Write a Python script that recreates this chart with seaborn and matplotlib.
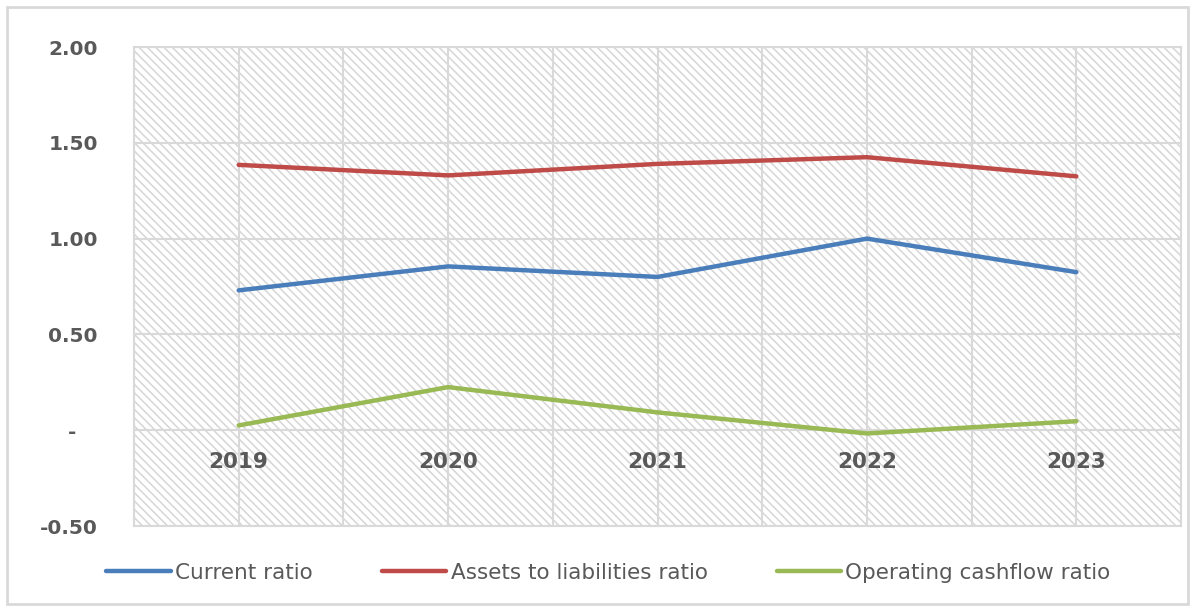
import numpy as np
import pandas as pd
import matplotlib
matplotlib.use("Agg")
import matplotlib.pyplot as plt
from matplotlib.patches import Rectangle
import seaborn as sns

years = ["2019", "2020", "2021", "2022", "2023"]
current_ratio = [0.73, 0.855, 0.80, 1.00, 0.825]
assets_to_liabilities = [1.385, 1.33, 1.39, 1.425, 1.325]
operating_cashflow = [0.025, 0.225, 0.093, -0.017, 0.047]
series_names = ["Current ratio", "Assets to liabilities ratio", "Operating cashflow ratio"]
y_ticks = [-0.5, 0.0, 0.5, 1.0, 1.5, 2.0]
y_tick_labels = ["-0.50", "-   ", "0.50", "1.00", "1.50", "2.00"]

colors = ["#4a7ebb", "#be4b48", "#98b954"]

df = pd.DataFrame({
    "x": list(range(len(years))) * 3,
    "value": current_ratio + assets_to_liabilities + operating_cashflow,
    "series": [series_names[0]] * 5 + [series_names[1]] * 5 + [series_names[2]] * 5,
})

sns.set_theme(style="white")
plt.rcParams["font.family"] = ["DejaVu Sans"]
plt.rcParams["hatch.color"] = "#d6d6d6"
plt.rcParams["hatch.linewidth"] = 1.1

fig = plt.figure(figsize=(11.93, 6.06), dpi=100)
ax = fig.add_axes([0.1123, 0.132, 0.8777, 0.7904])

# hatched plot area
ax.add_patch(Rectangle((0, 0), 1, 1, transform=ax.transAxes, facecolor="white",
                       edgecolor="#d6d6d6", hatch="\\\\\\\\", lw=0, zorder=0))

sns.lineplot(data=df, x="x", y="value", hue="series", palette=colors, lw=3.2,
             ax=ax, legend=False, zorder=3)

ax.set_xlim(-0.5, len(years) - 0.5)
ax.set_ylim(-0.5, 2.0)
ax.set_xticks(np.arange(-0.5, len(years), 0.5))
ax.set_xticklabels([])
ax.set_yticks(y_ticks)
ax.set_yticklabels(y_tick_labels)
ax.tick_params(axis="y", length=0, pad=26, labelsize=14.5, labelcolor="#595959")
ax.tick_params(axis="x", length=0)
for lab in ax.get_yticklabels():
    lab.set_fontweight("bold")
ax.grid(True, color="#d9d9d9", lw=1.5, zorder=1)
ax.set_axisbelow(True)
for s in ax.spines.values():
    s.set_color("#d9d9d9")
    s.set_linewidth(1.5)
ax.set_xlabel("")
ax.set_ylabel("")

for i, yr in enumerate(years):
    ax.text(i, -0.165, yr, ha="center", va="center", fontsize=15.5,
            fontweight="bold", color="#595959", zorder=4)

handles = [plt.Line2D([], [], color=c, lw=3.2, solid_capstyle="round") for c in colors]
fig.legend(handles, series_names, loc="center", bbox_to_anchor=(0.51, 0.055), ncol=3,
           frameon=False, fontsize=15.5, handlelength=3.0, handletextpad=0.2,
           columnspacing=3.2, labelcolor="#595959")

fig.patches.append(Rectangle((0.006, 0.004), 0.99, 0.985, transform=fig.transFigure,
                             facecolor="none", edgecolor="#d9d9d9", lw=2, figure=fig))

fig.savefig("out.png", dpi=100)
